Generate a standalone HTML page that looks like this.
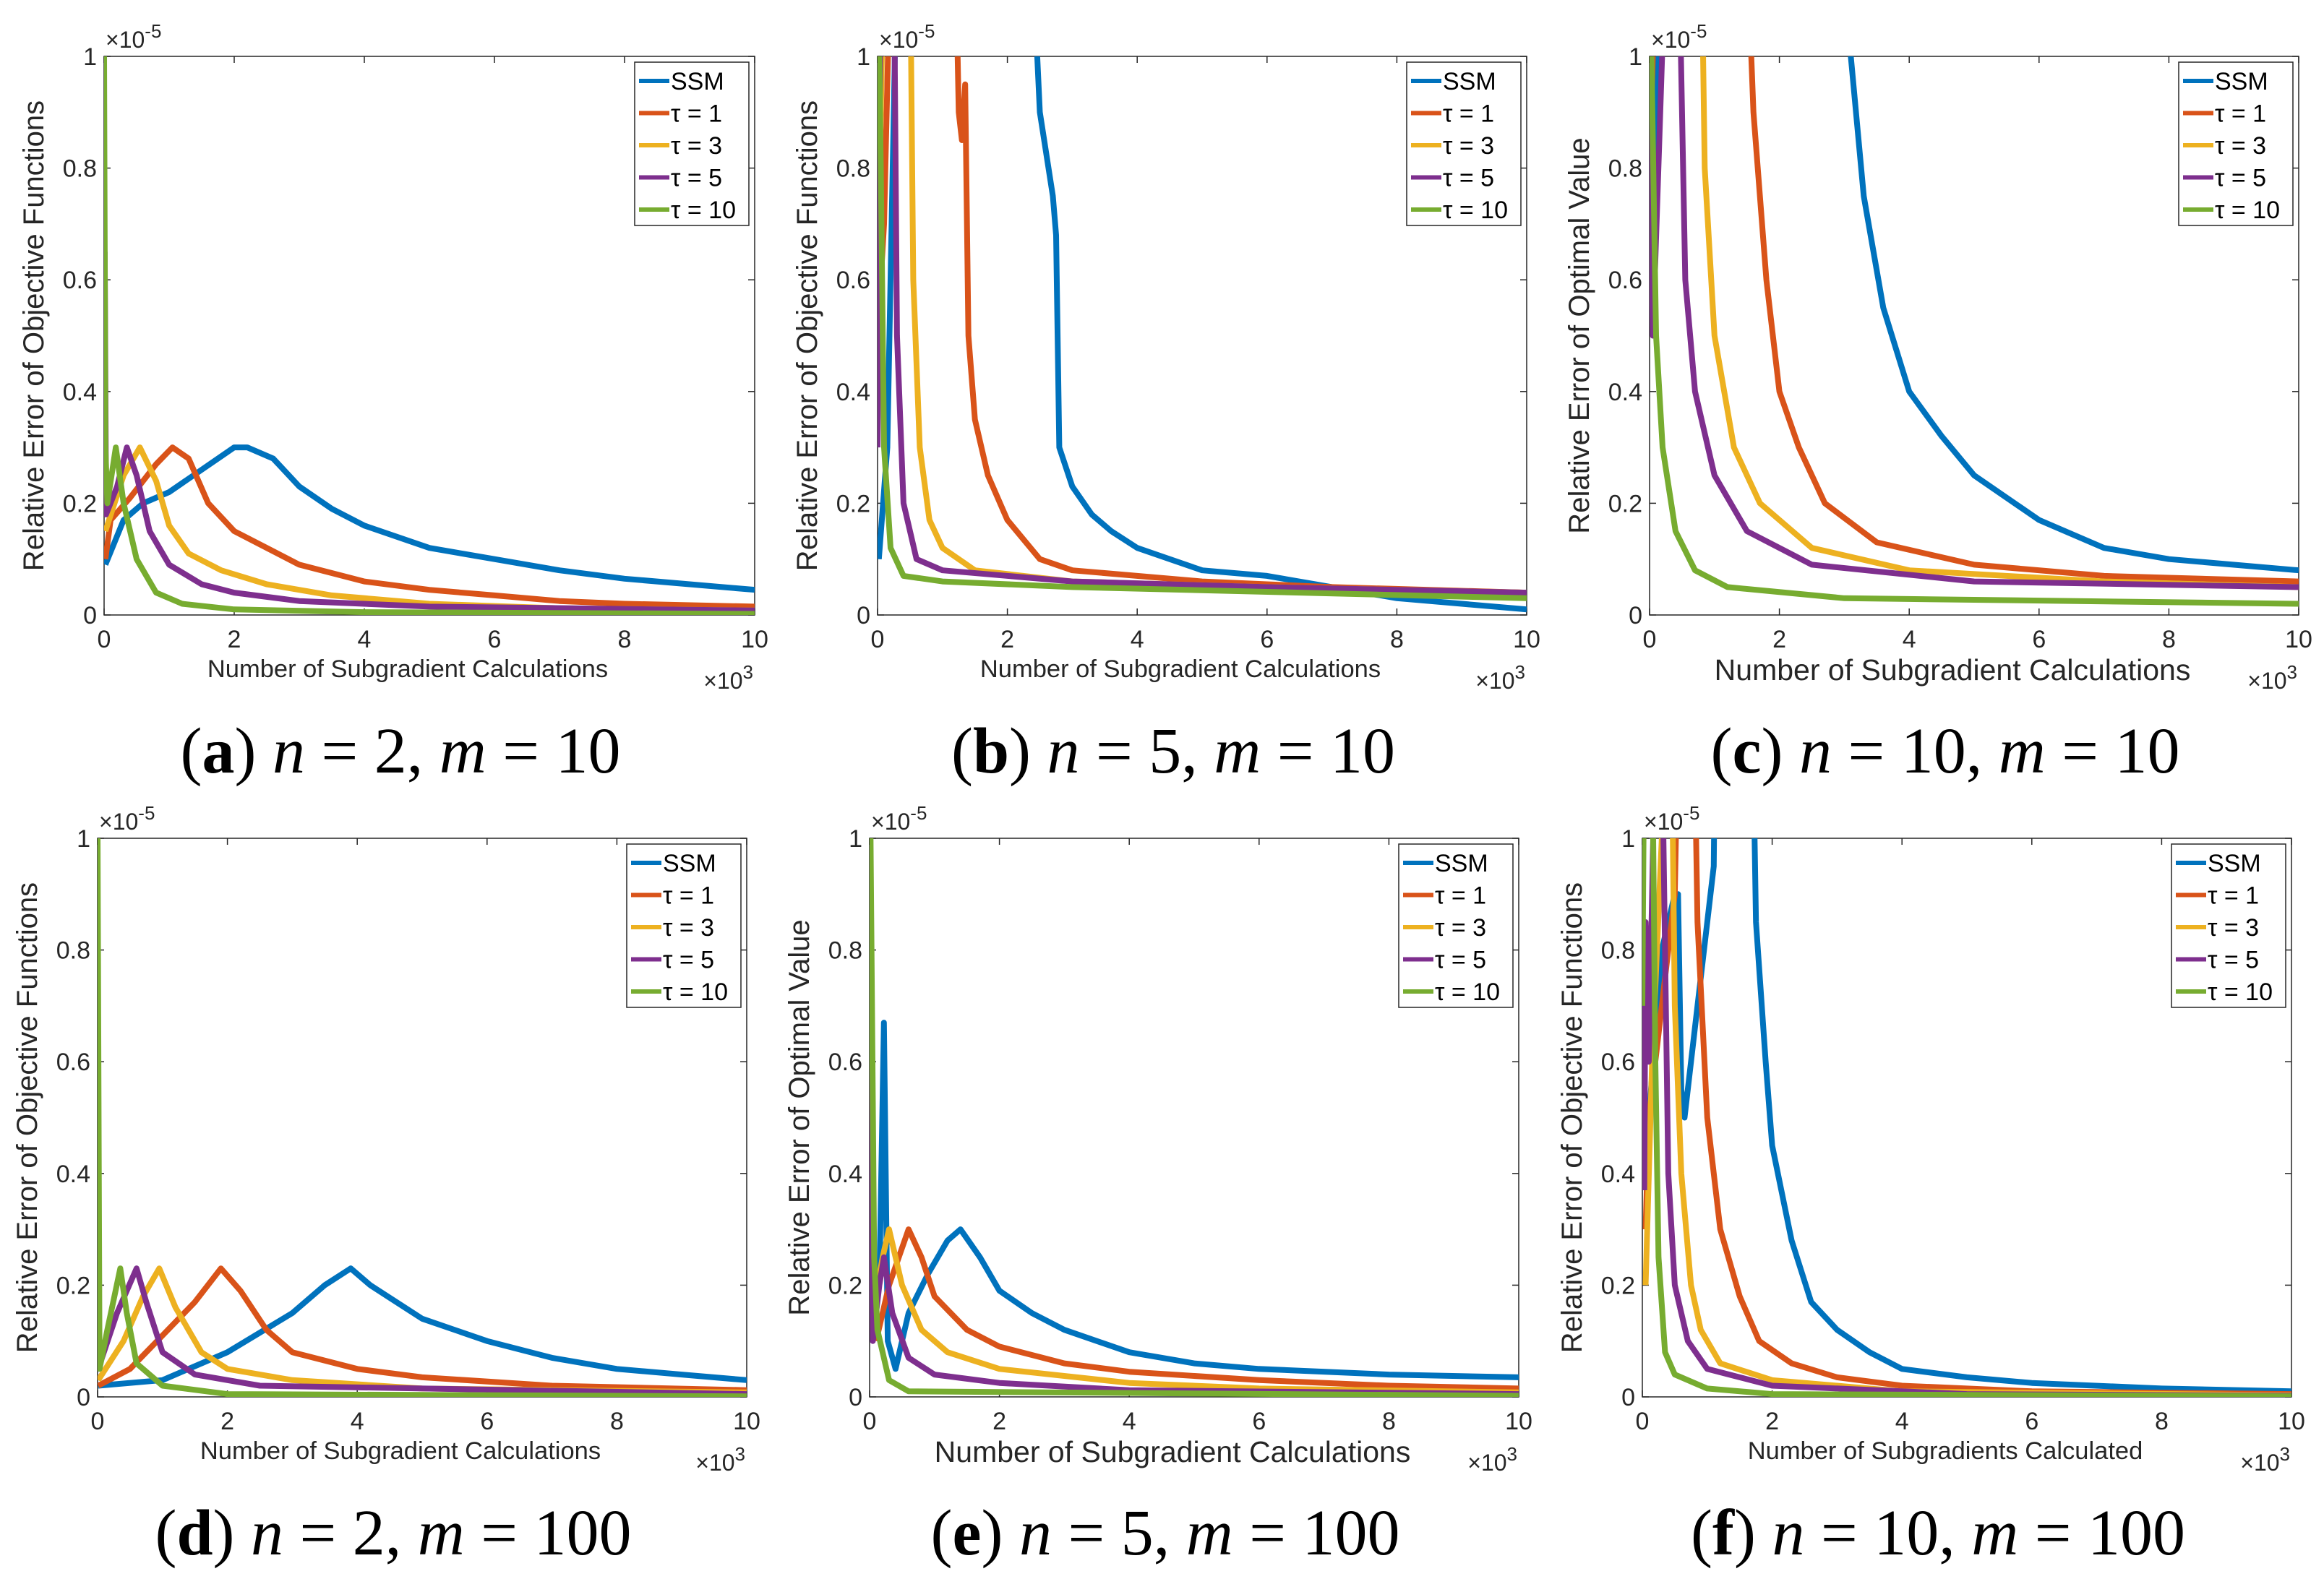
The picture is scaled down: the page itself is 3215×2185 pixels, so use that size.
<!DOCTYPE html>
<html><head><meta charset="utf-8"><style>
html,body{margin:0;padding:0;background:#fff;}
svg{display:block;}
</style></head><body>
<svg id="fig" width="3215" height="2185" viewBox="0 0 3215 2185" xmlns="http://www.w3.org/2000/svg" font-family="Liberation Sans, sans-serif"></svg>
<script>
// ---- data (x in thousands, y in 1e-5) ----
const seriesNames = ["SSM","τ = 1","τ = 3","τ = 5","τ = 10"];
const colors = ["#0072bd","#d95319","#edb120","#7e2f8e","#77ac30"];
const xTicks = [0,2,4,6,8,10];
const yTicks = [0,0.2,0.4,0.6,0.8,1];
const yTickLabels = ["0","0.2","0.4","0.6","0.8","1"];

const aSSM=[[0.02,0.09],[0.3,0.17],[0.6,0.2],[1.0,0.22],[1.5,0.26],[2.0,0.3],[2.2,0.3],[2.6,0.28],[3,0.23],[3.5,0.19],[4,0.16],[5,0.12],[6,0.1],[7,0.08],[8,0.065],[9,0.055],[10,0.045]];
const aT1=[[0.02,0.1],[0.1,0.17],[0.4,0.21],[0.8,0.27],[1.05,0.3],[1.3,0.28],[1.6,0.2],[2,0.15],[2.5,0.12],[3,0.09],[4,0.06],[5,0.045],[6,0.035],[7,0.025],[8,0.02],[10,0.015]];
const aT3=[[0.02,0.15],[0.3,0.25],[0.55,0.3],[0.8,0.24],[1.0,0.16],[1.3,0.11],[1.8,0.08],[2.5,0.055],[3.5,0.035],[5,0.02],[7,0.012],[10,0.008]];
const aT5=[[0.01,0.65],[0.03,0.18],[0.2,0.23],[0.35,0.3],[0.5,0.25],[0.7,0.15],[1,0.09],[1.5,0.055],[2,0.04],[3,0.025],[5,0.015],[10,0.008]];
const aT10=[[0,1.0],[0.02,0.3],[0.05,0.2],[0.18,0.3],[0.3,0.2],[0.5,0.1],[0.8,0.04],[1.2,0.02],[2,0.01],[4,0.005],[10,0.002]];

const bSSM=[[0.02,0.1],[0.15,0.3],[0.3,1.2],[2.38,1.2],[2.5,0.9],[2.7,0.75],[2.75,0.68],[2.8,0.3],[3,0.23],[3.3,0.18],[3.6,0.15],[4,0.12],[5,0.08],[6,0.07],[7,0.05],[8,0.03],[9,0.02],[10,0.01]];
const bT1=[[0,0.5],[0.1,0.7],[0.2,1.2],[1.2,1.2],[1.25,0.9],[1.3,0.85],[1.35,0.95],[1.4,0.5],[1.5,0.35],[1.7,0.25],[2,0.17],[2.5,0.1],[3,0.08],[5,0.06],[7,0.05],[10,0.04]];
const bT3=[[0,0.6],[0.1,1.2],[0.5,1.2],[0.55,0.6],[0.65,0.3],[0.8,0.17],[1,0.12],[1.5,0.08],[3,0.06],[6,0.05],[10,0.04]];
const bT5=[[0,0.3],[0.05,1.2],[0.25,1.2],[0.3,0.5],[0.4,0.2],[0.6,0.1],[1,0.08],[3,0.06],[6,0.05],[10,0.04]];
const bT10=[[0,1.2],[0.05,0.8],[0.1,0.3],[0.2,0.12],[0.4,0.07],[1,0.06],[3,0.05],[10,0.03]];

const cSSM=[[0,0.6],[0.1,0.9],[0.2,1.2],[3.0,1.2],[3.1,1.0],[3.3,0.75],[3.6,0.55],[4,0.4],[4.5,0.32],[5,0.25],[6,0.17],[7,0.12],[8,0.1],[10,0.08]];
const cT1=[[0,0.8],[0.1,1.2],[1.5,1.2],[1.6,0.9],[1.8,0.6],[2,0.4],[2.3,0.3],[2.7,0.2],[3.5,0.13],[5,0.09],[7,0.07],[10,0.06]];
const cT3=[[0,1.2],[0.8,1.2],[0.85,0.8],[1,0.5],[1.3,0.3],[1.7,0.2],[2.5,0.12],[4,0.08],[7,0.06],[10,0.05]];
const cT5=[[0,1.0],[0.05,0.5],[0.15,0.85],[0.25,1.2],[0.45,1.2],[0.55,0.6],[0.7,0.4],[1,0.25],[1.5,0.15],[2.5,0.09],[5,0.06],[10,0.05]];
const cT10=[[0,1.2],[0.1,0.5],[0.2,0.3],[0.4,0.15],[0.7,0.08],[1.2,0.05],[3,0.03],[10,0.02]];

const dSSM=[[0.01,0.02],[1,0.03],[2,0.08],[3,0.15],[3.5,0.2],[3.9,0.23],[4.2,0.2],[4.6,0.17],[5,0.14],[6,0.1],[7,0.07],[8,0.05],[9,0.04],[10,0.03]];
const dT1=[[0.01,0.02],[0.5,0.05],[1,0.11],[1.5,0.17],[1.9,0.23],[2.2,0.19],[2.6,0.12],[3,0.08],[4,0.05],[5,0.035],[7,0.02],[10,0.012]];
const dT3=[[0.01,0.03],[0.4,0.1],[0.7,0.18],[0.95,0.23],[1.2,0.16],[1.6,0.08],[2,0.05],[3,0.03],[5,0.015],[10,0.008]];
const dT5=[[0.01,0.05],[0.3,0.15],[0.6,0.23],[0.75,0.17],[1,0.08],[1.5,0.04],[2.5,0.02],[10,0.005]];
const dT10=[[0,1.0],[0.03,0.05],[0.15,0.12],[0.35,0.23],[0.45,0.15],[0.6,0.06],[1,0.02],[2,0.005],[10,0.001]];

const eSSM=[[0.15,0.2],[0.22,0.67],[0.28,0.1],[0.4,0.05],[0.6,0.15],[0.9,0.22],[1.2,0.28],[1.4,0.3],[1.7,0.25],[2,0.19],[2.5,0.15],[3,0.12],[4,0.08],[5,0.06],[6,0.05],[8,0.04],[10,0.035]];
const eT1=[[0.1,0.1],[0.3,0.2],[0.6,0.3],[0.8,0.25],[1.0,0.18],[1.5,0.12],[2,0.09],[3,0.06],[4,0.045],[6,0.03],[8,0.02],[10,0.015]];
const eT3=[[0.05,0.15],[0.2,0.25],[0.3,0.3],[0.5,0.2],[0.8,0.12],[1.2,0.08],[2,0.05],[4,0.025],[6,0.015],[10,0.008]];
const eT5=[[0,0.9],[0.05,0.1],[0.15,0.2],[0.22,0.25],[0.35,0.15],[0.6,0.07],[1,0.04],[2,0.025],[4,0.012],[10,0.005]];
const eT10=[[0,1.2],[0.07,0.25],[0.12,0.12],[0.3,0.03],[0.6,0.01],[10,0.002]];

const fSSM=[[0.1,0.5],[0.3,0.8],[0.5,0.9],[0.55,0.9],[0.6,0.55],[0.65,0.5],[0.8,0.65],[1.0,0.85],[1.1,0.95],[1.12,1.2],[1.7,1.2],[1.75,0.85],[1.9,0.6],[2.0,0.45],[2.3,0.28],[2.6,0.17],[3,0.12],[3.5,0.08],[4,0.05],[5,0.035],[6,0.025],[8,0.015],[10,0.01]];
const fT1=[[0.05,0.3],[0.1,0.5],[0.3,0.7],[0.5,0.9],[0.55,1.2],[0.8,1.2],[0.85,0.85],[1.0,0.5],[1.2,0.3],[1.5,0.18],[1.8,0.1],[2.3,0.06],[3,0.035],[4,0.02],[6,0.01],[10,0.005]];
const fT3=[[0.05,0.2],[0.15,0.6],[0.3,1.0],[0.35,1.2],[0.45,1.2],[0.5,0.7],[0.6,0.4],[0.75,0.2],[0.9,0.12],[1.2,0.06],[2,0.03],[4,0.01],[10,0.003]];
const fT5=[[0.03,0.37],[0.05,0.85],[0.1,0.6],[0.2,1.2],[0.3,1.2],[0.35,0.8],[0.4,0.4],[0.5,0.2],[0.7,0.1],[1,0.05],[2,0.02],[5,0.005],[10,0.002]];
const fT10=[[0,0.7],[0.03,1.2],[0.15,1.2],[0.2,0.6],[0.25,0.25],[0.35,0.08],[0.5,0.04],[1,0.015],[2,0.005],[10,0.001]];

const panels=[
 {id:"a",L:144,R:1044,T:78,B:851,ylab:"Relative Error of Objective Functions",yfs:40,xlab:"Number of Subgradient Calculations",xfs:34.5,series:[aSSM,aT1,aT3,aT5,aT10],cap:["a","2","10"]},
 {id:"b",L:1214,R:2112,T:78,B:851,ylab:"Relative Error of Objective Functions",yfs:40,xlab:"Number of Subgradient Calculations",xfs:34.5,series:[bSSM,bT1,bT3,bT5,bT10],cap:["b","5","10"]},
 {id:"c",L:2282,R:3180,T:78,B:851,ylab:"Relative Error of Optimal Value",yfs:40,xlab:"Number of Subgradient Calculations",xfs:41,series:[cSSM,cT1,cT3,cT5,cT10],cap:["c","10","10"]},
 {id:"d",L:135,R:1033,T:1160,B:1933,ylab:"Relative Error of Objective Functions",yfs:40,xlab:"Number of Subgradient Calculations",xfs:34.5,series:[dSSM,dT1,dT3,dT5,dT10],cap:["d","2","100"]},
 {id:"e",L:1203,R:2101,T:1160,B:1933,ylab:"Relative Error of Optimal Value",yfs:40,xlab:"Number of Subgradient Calculations",xfs:41,series:[eSSM,eT1,eT3,eT5,eT10],cap:["e","5","100"]},
 {id:"f",L:2272,R:3170,T:1160,B:1933,ylab:"Relative Error of Objective Functions",yfs:40,xlab:"Number of Subgradients Calculated",xfs:34.5,series:[fSSM,fT1,fT3,fT5,fT10],cap:["f","10","100"]}
];

const NS="http://www.w3.org/2000/svg";
const svg=document.getElementById("fig");
function mk(tag,attrs,parent,text){const e=document.createElementNS(NS,tag);for(const k in attrs)e.setAttribute(k,attrs[k]);if(text!==undefined)e.textContent=text;(parent||svg).appendChild(e);return e;}
const defs=mk("defs",{});

panels.forEach(p=>{
  const g=mk("g",{});
  
  
  const xs=v=>p.L+(v/10)*(p.R-p.L);
  const ys=v=>p.B-v*(p.B-p.T);
  const cp=mk("clipPath",{id:"clip"+p.id},defs);
  mk("rect",{x:p.L,y:p.T,width:p.R-p.L,height:p.B-p.T},cp);
  const box=mk("rect",{x:p.L,y:p.T,width:p.R-p.L,height:p.B-p.T,fill:"none",stroke:"#262626","stroke-width":1.5},g);
  
  
  xTicks.forEach(t=>{
    const x=xs(t);
    mk("line",{x1:x,y1:p.B,x2:x,y2:p.B-9,stroke:"#262626","stroke-width":1.5},g);
    mk("line",{x1:x,y1:p.T,x2:x,y2:p.T+9,stroke:"#262626","stroke-width":1.5},g);
    const tl=mk("text",{x:x,y:p.B+45,"font-size":34,"text-anchor":"middle",fill:"#262626"},g,String(t));
    
    
  });
  yTicks.forEach((t,i)=>{
    const y=ys(t);
    mk("line",{x1:p.L,y1:y,x2:p.L+9,y2:y,stroke:"#262626","stroke-width":1.5},g);
    mk("line",{x1:p.R,y1:y,x2:p.R-9,y2:y,stroke:"#262626","stroke-width":1.5},g);
    const tl=mk("text",{x:p.L-10,y:y+12,"font-size":34,"text-anchor":"end",fill:"#262626"},g,yTickLabels[i]);
    
    
  });
  const ey=mk("text",{x:p.L+2,y:p.T-12,"font-size":32,fill:"#262626"},g);
  
  
  ey.innerHTML='×10<tspan dy="-14" font-size="26">-5</tspan>';
  const ex=mk("text",{x:p.R-2,y:p.B+102,"font-size":32,"text-anchor":"end",fill:"#262626"},g);
  
  
  ex.innerHTML='×10<tspan dy="-14" font-size="26">3</tspan>';
  const xt=mk("text",{x:(p.L+p.R)/2-30,y:p.B+(p.xfs>38?90:86),"font-size":p.xfs,"text-anchor":"middle",fill:"#262626"},g,p.xlab);
  
  
  const cx=p.L-84, cy=(p.T+p.B)/2;
  const yt=mk("text",{x:cx,y:cy,"font-size":p.yfs,"text-anchor":"middle",fill:"#262626",transform:`rotate(-90 ${cx} ${cy})`},g,p.ylab);
  
  
  const sg=mk("g",{"clip-path":`url(#clip${p.id})`},g);
  p.series.forEach((s,i)=>{
    const d=s.map((pt,j)=>(j?"L":"M")+xs(pt[0]).toFixed(1)+","+ys(pt[1]).toFixed(1)).join("");
    const path=mk("path",{d:d,fill:"none",stroke:colors[i],"stroke-width":8,"stroke-linejoin":"round"},sg);
    
    
  });
  const lw=158, lh=226, lx=p.R-lw-8, ly=p.T+8;
  const lg=mk("g",{},g);
  
  
  mk("rect",{x:lx,y:ly,width:lw,height:lh,fill:"#fff",stroke:"#262626","stroke-width":1.5},lg);
  seriesNames.forEach((n,i)=>{
    const yy=ly+26+i*44.5;
    const le=mk("g",{},lg);
    
    
    mk("line",{x1:lx+6,y1:yy,x2:lx+48,y2:yy,stroke:colors[i],"stroke-width":6},le);
    mk("text",{x:lx+50,y:yy+12,"font-size":34,fill:"#000"},le,n);
  });
  const cap=mk("text",{x:(p.L+p.R)/2-40,y:p.B+218,"font-size":90,"text-anchor":"middle","font-family":"Liberation Serif, serif",fill:"#000"},g);
  
  
  cap.innerHTML=`(<tspan font-weight="bold">${p.cap[0]}</tspan>) <tspan font-style="italic">n</tspan> = ${p.cap[1]}, <tspan font-style="italic">m</tspan> = ${p.cap[2]}`;
});
</script>
</body></html>
